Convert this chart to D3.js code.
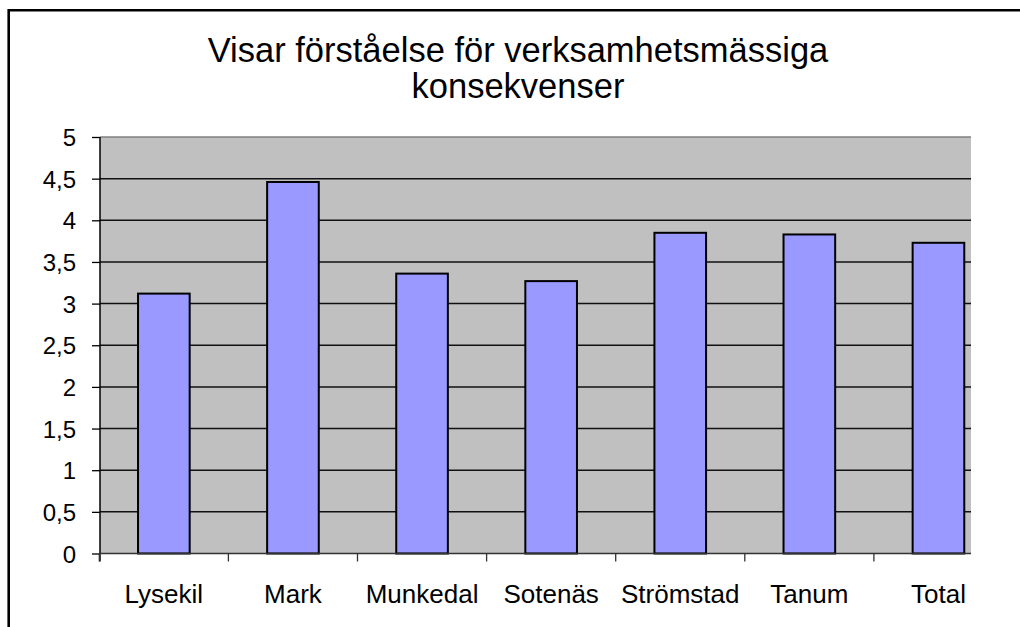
<!DOCTYPE html>
<html>
<head>
<meta charset="utf-8">
<script src="https://cdn.jsdelivr.net/npm/d3@7"></script>
<style>
  body { margin: 0; background: #fff; }
  svg { display: block; font-family: Arial, "Liberation Sans", sans-serif; }
</style>
</head>
<body>
<div id="chart"></div>
<script>
/* DATA */
const titleLines = ["Visar förståelse för verksamhetsmässiga", "konsekvenser"];
const categories = ["Lysekil", "Mark", "Munkedal", "Sotenäs", "Strömstad", "Tanum", "Total"];
const values = [3.12, 4.46, 3.36, 3.27, 3.85, 3.83, 3.73];
const yTicks = [0, 0.5, 1, 1.5, 2, 2.5, 3, 3.5, 4, 4.5, 5];

/* LAYOUT */
const width = 1020, height = 627;
const plot = { left: 100, right: 971, top: 137, bottom: 553.5 };
const step = 129.1; // category width, wider than the visible plot (right side is cut off)

const svg = d3.select("#chart").append("svg")
  .attr("width", width)
  .attr("height", height);

// outer frame, only top and left edges are inside the picture
svg.append("path")
  .attr("d", `M8.7,${height + 5} V10.3 H${width + 5}`)
  .attr("fill", "none")
  .attr("stroke", "#000")
  .attr("stroke-width", 2.6);

// SCALES
const x = d3.scaleBand()
  .domain(categories)
  .range([plot.left - 0.7, plot.left - 0.7 + step * categories.length])
  .paddingInner(0.6)
  .paddingOuter(0.3);

const y = d3.scaleLinear()
  .domain([0, 5])
  .range([plot.bottom, plot.top]);

const sv = d3.formatLocale({ decimal: ",", thousands: " ", grouping: [3], currency: ["", " kr"] });
const fmt = sv.format("~g");

// TITLE
const cx = 518;
svg.append("text")
  .attr("text-anchor", "middle")
  .attr("font-size", 34.5)
  .attr("fill", "#000")
  .selectAll("tspan")
  .data(titleLines)
  .join("tspan")
  .attr("x", cx)
  .attr("y", (d, i) => 62 + i * 36)
  .text(d => d);

// PLOT AREA
svg.append("rect")
  .attr("x", plot.left)
  .attr("y", plot.top)
  .attr("width", plot.right - plot.left)
  .attr("height", plot.bottom - plot.top)
  .attr("fill", "#c0c0c0");

svg.append("line")
  .attr("x1", plot.left).attr("x2", plot.right)
  .attr("y1", plot.top).attr("y2", plot.top)
  .attr("stroke", "#808080")
  .attr("stroke-width", 1.5);

// gridlines
svg.append("g")
  .selectAll("line")
  .data(yTicks.filter(d => d > 0 && d < 5))
  .join("line")
  .attr("x1", plot.left).attr("x2", plot.right)
  .attr("y1", d => y(d)).attr("y2", d => y(d))
  .attr("stroke", "#111")
  .attr("stroke-width", 1.5);

// BARS
svg.append("g")
  .selectAll("rect")
  .data(values)
  .join("rect")
  .attr("x", (d, i) => x(categories[i]))
  .attr("y", d => y(d))
  .attr("width", x.bandwidth())
  .attr("height", d => y(0) - y(d))
  .attr("fill", "#9999ff")
  .attr("stroke", "#000")
  .attr("stroke-width", 2);

// Y AXIS
const yAxis = d3.axisLeft(y)
  .tickValues(yTicks)
  .tickFormat(fmt)
  .tickSize(8)
  .tickPadding(16);

const yAxisGroup = svg.append("g")
  .attr("transform", `translate(${plot.left},0)`)
  .call(yAxis);
yAxisGroup.select(".domain")
  .attr("d", `M0,${plot.top}V${plot.bottom + 8}`)
  .attr("stroke", "#000")
  .attr("stroke-width", 1.5);
yAxisGroup.selectAll(".tick line").attr("stroke", "#000").attr("stroke-width", 1.3);
yAxisGroup.selectAll(".tick text")
  .attr("font-size", 24)
  .attr("font-family", "Arial, 'Liberation Sans', sans-serif")
  .attr("fill", "#000")
  .attr("dy", "0.36em");

// X AXIS
svg.append("line")
  .attr("x1", plot.left).attr("x2", plot.right)
  .attr("y1", plot.bottom).attr("y2", plot.bottom)
  .attr("stroke", "#333")
  .attr("stroke-width", 1.5);

const boundaries = categories.map(c => x(c) - x.step() * x.paddingInner() / 2);
svg.append("g")
  .selectAll("line")
  .data(boundaries.filter(d => d <= plot.right))
  .join("line")
  .attr("x1", d => d).attr("x2", d => d)
  .attr("y1", plot.bottom).attr("y2", plot.bottom + 8)
  .attr("stroke", "#333")
  .attr("stroke-width", 1.3);

svg.append("g")
  .selectAll("text")
  .data(categories)
  .join("text")
  .attr("x", d => x(d) + x.bandwidth() / 2)
  .attr("y", 603)
  .attr("text-anchor", "middle")
  .attr("font-size", 26)
  .attr("fill", "#000")
  .text(d => d);
</script>
</body>
</html>
